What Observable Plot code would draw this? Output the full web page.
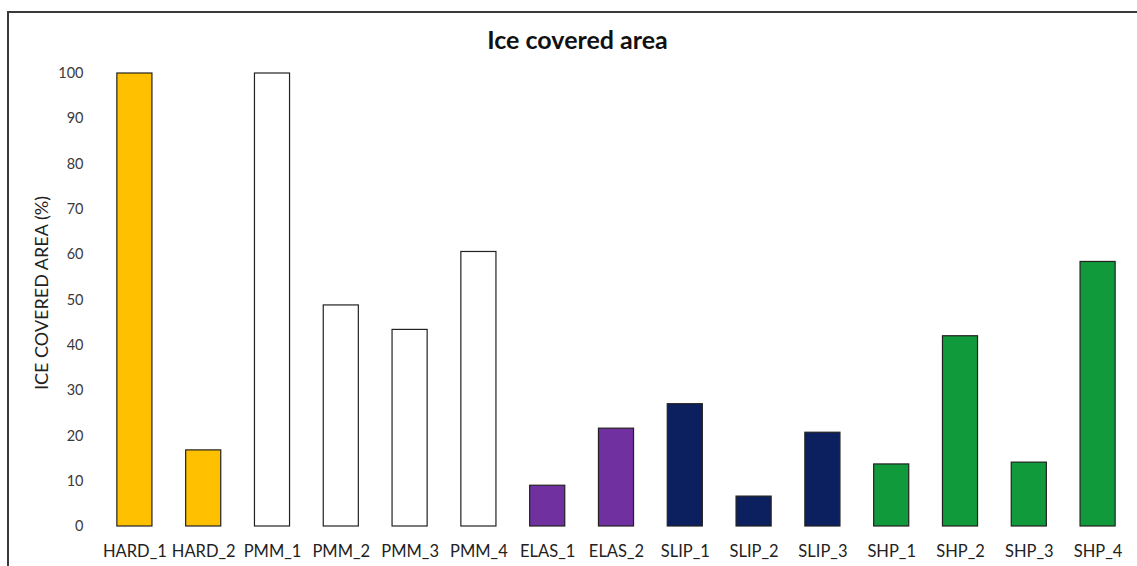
<!DOCTYPE html>
<html>
<head>
<meta charset="utf-8">
<script src="https://cdn.jsdelivr.net/npm/d3@7"></script>
<script src="https://cdn.jsdelivr.net/npm/@observablehq/plot@0.6"></script>
<style>
  html, body { margin: 0; padding: 0; background: #fff; width: 1137px; height: 566px; overflow: hidden; }
  #frame { position: absolute; left: 7px; top: 11px; width: 1140px; height: 600px; border: 2px solid #3a3a3a; box-sizing: border-box; }
  #chart { position: absolute; left: 0; top: 0; }
</style>
</head>
<body>
<div id="frame"></div>
<div id="chart"></div>
<script>
const categories = ["HARD_1","HARD_2","PMM_1","PMM_2","PMM_3","PMM_4","ELAS_1","ELAS_2","SLIP_1","SLIP_2","SLIP_3","SHP_1","SHP_2","SHP_3","SHP_4"];
const values = [100, 16.8, 100, 48.8, 43.4, 60.6, 9.0, 21.6, 27.0, 6.6, 20.7, 13.7, 42.0, 14.1, 58.4];
const groups = ["HARD","HARD","PMM","PMM","PMM","PMM","ELAS","ELAS","SLIP","SLIP","SLIP","SHP","SHP","SHP","SHP"];
const groupNames = ["HARD","PMM","ELAS","SLIP","SHP"];
const groupColors = ["#FFC000","#FFFFFF","#7030A0","#0C1F5E","#119A3B"];
const yTicks = [0,10,20,30,40,50,60,70,80,90,100];
const title = "Ice covered area";
const yLabel = "ICE COVERED AREA (%)";

const data = categories.map((c, i) => ({cat: c, value: values[i], group: groups[i]}));

const font = "Lato, 'Open Sans', sans-serif";
const plot = Plot.plot({
  width: 1137,
  height: 566,
  marginLeft: 100,
  marginRight: 5,
  marginTop: 73,
  marginBottom: 40,
  style: {fontFamily: font, background: "transparent", color: "#222"},
  x: {domain: categories, paddingInner: 0.49, paddingOuter: 0.245, round: false, label: null, axis: null},
  y: {domain: [0, 100], label: null, axis: null},
  color: {domain: groupNames, range: groupColors},
  marks: [
    Plot.barY(data, {x: "cat", y: "value", fill: "group", stroke: "#222", strokeWidth: 1.2}),
    Plot.axisY({ticks: yTicks, tickSize: 0, tickPadding: 17, fontSize: 14.5, fill: "#3a3a3a", label: null}),
    Plot.axisX({tickSize: 0, tickPadding: 19, fontSize: 16.5, fill: "#222", label: null}),
    Plot.text([title], {frameAnchor: "top", lineAnchor: "middle", dx: -39, dy: -33, text: d => d, fontSize: 25, fontWeight: "bold", fill: "#111"}),
    Plot.text([yLabel], {frameAnchor: "left", textAnchor: "middle", lineAnchor: "middle", dx: -58, dy: -7, rotate: -90, text: d => d, fontSize: 18, fill: "#222"})
  ]
});
document.getElementById("chart").appendChild(plot);
</script>
</body>
</html>
